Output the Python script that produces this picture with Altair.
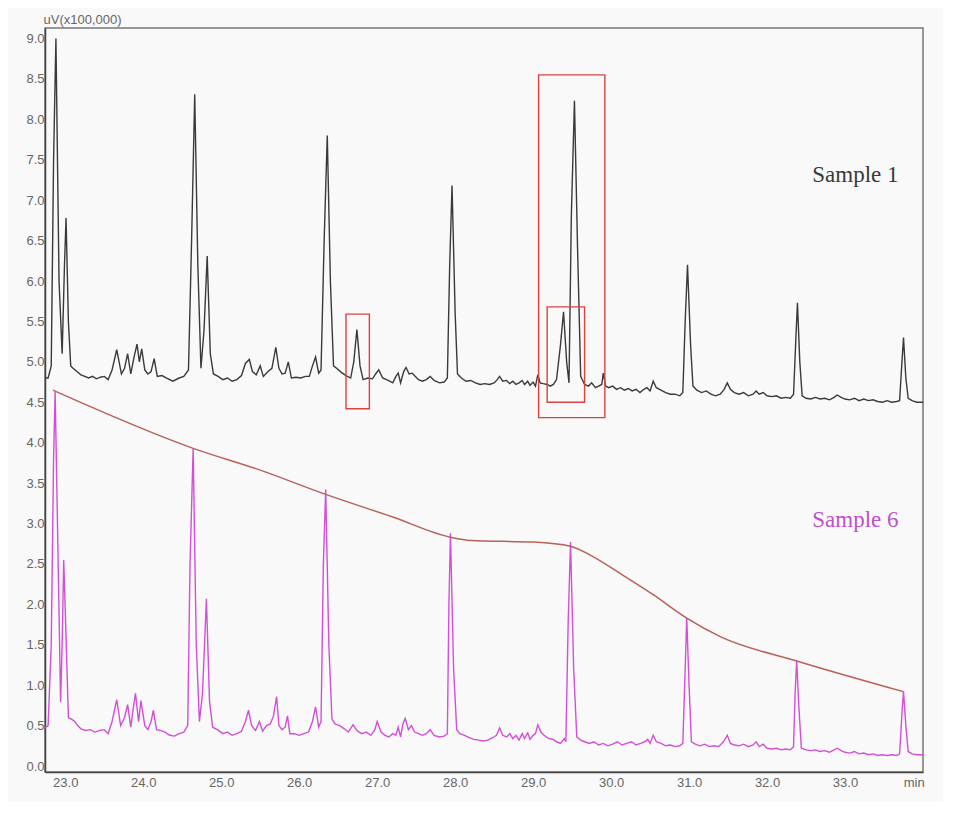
import pandas as pd
import altair as alt

OUTPUT_FILE = "out.html"

BLACK   = "#3a3a3a"
MAGENTA = "#d24fd6"
ENV_RED = "#b9605a"
BOX_RED = "#d9443f"
GRAY    = "#666666"
BG      = "#f9f9f9"

# Sample 1 trace (retention time in min, signal in uV x 100,000)
S1_POINTS = [
    (22.74, 4.80), (22.78, 4.80), (22.82, 4.95), (22.85, 7.50), (22.88, 9.00),
    (22.92, 6.00), (22.96, 5.10), (22.99, 6.20), (23.01, 6.78), (23.04, 5.50),
    (23.07, 4.95), (23.10, 4.92), (23.15, 4.88), (23.20, 4.84), (23.25, 4.82),
    (23.30, 4.80), (23.35, 4.82), (23.40, 4.79), (23.45, 4.81), (23.50, 4.82),
    (23.55, 4.78), (23.60, 4.90), (23.66, 5.15), (23.72, 4.85), (23.76, 4.92),
    (23.80, 5.10), (23.84, 4.85), (23.88, 5.05), (23.92, 5.22), (23.95, 5.00),
    (23.98, 5.16), (24.02, 4.90), (24.06, 4.85), (24.10, 4.88), (24.14, 5.04),
    (24.18, 4.82), (24.24, 4.83), (24.30, 4.80), (24.38, 4.76), (24.46, 4.80),
    (24.52, 4.82), (24.58, 4.90), (24.62, 6.50), (24.66, 8.31), (24.70, 6.20),
    (24.74, 4.92), (24.78, 5.40), (24.82, 6.31), (24.86, 5.10), (24.90, 4.85),
    (24.96, 4.82), (25.02, 4.78), (25.08, 4.80), (25.14, 4.76), (25.20, 4.78),
    (25.26, 4.83), (25.31, 4.98), (25.36, 5.03), (25.40, 4.88), (25.45, 4.84),
    (25.50, 4.95), (25.54, 4.82), (25.60, 4.88), (25.65, 4.92), (25.70, 5.18),
    (25.74, 4.92), (25.78, 4.85), (25.82, 4.86), (25.86, 5.00), (25.90, 4.80),
    (25.96, 4.81), (26.02, 4.80), (26.08, 4.82), (26.13, 4.82), (26.17, 4.95),
    (26.21, 5.06), (26.25, 4.86), (26.28, 4.90), (26.32, 6.50), (26.36, 7.80),
    (26.40, 6.00), (26.44, 4.95), (26.48, 4.92), (26.54, 4.87), (26.60, 4.83),
    (26.66, 4.80), (26.70, 5.00), (26.74, 5.40), (26.78, 4.95), (26.82, 4.78),
    (26.88, 4.80), (26.94, 4.79), (26.98, 4.85), (27.02, 4.90), (27.07, 4.80),
    (27.12, 4.78), (27.16, 4.76), (27.20, 4.74), (27.24, 4.82), (27.27, 4.86),
    (27.30, 4.74), (27.34, 4.88), (27.37, 4.93), (27.41, 4.85), (27.45, 4.86),
    (27.49, 4.82), (27.53, 4.78), (27.58, 4.76), (27.63, 4.78), (27.68, 4.82),
    (27.73, 4.77), (27.80, 4.74), (27.86, 4.75), (27.90, 4.80), (27.93, 6.20),
    (27.96, 7.18), (28.00, 5.60), (28.03, 4.85), (28.08, 4.80), (28.14, 4.76),
    (28.20, 4.77), (28.26, 4.74), (28.32, 4.72), (28.38, 4.73), (28.44, 4.72),
    (28.50, 4.74), (28.54, 4.78), (28.57, 4.82), (28.61, 4.76), (28.66, 4.77),
    (28.70, 4.73), (28.74, 4.76), (28.78, 4.72), (28.82, 4.74), (28.86, 4.77),
    (28.89, 4.72), (28.93, 4.76), (28.96, 4.71), (29.00, 4.75), (29.03, 4.70),
    (29.06, 4.84), (29.09, 4.74), (29.13, 4.73), (29.18, 4.72), (29.22, 4.70),
    (29.26, 4.72), (29.30, 4.78), (29.35, 5.20), (29.39, 5.62), (29.43, 5.00),
    (29.46, 4.74), (29.49, 6.80), (29.53, 8.23), (29.57, 6.40), (29.61, 4.82),
    (29.66, 4.72), (29.71, 4.70), (29.75, 4.74), (29.80, 4.68), (29.84, 4.70),
    (29.88, 4.72), (29.90, 4.86), (29.93, 4.70), (29.97, 4.68), (30.02, 4.70),
    (30.07, 4.66), (30.12, 4.68), (30.17, 4.65), (30.22, 4.67), (30.27, 4.64),
    (30.32, 4.66), (30.37, 4.62), (30.42, 4.66), (30.46, 4.68), (30.50, 4.64),
    (30.54, 4.76), (30.58, 4.68), (30.64, 4.65), (30.70, 4.62), (30.76, 4.60),
    (30.82, 4.60), (30.88, 4.58), (30.92, 4.62), (30.95, 5.50), (30.98, 6.20),
    (31.02, 5.20), (31.05, 4.70), (31.10, 4.65), (31.16, 4.62), (31.22, 4.64),
    (31.28, 4.60), (31.34, 4.58), (31.40, 4.60), (31.45, 4.66), (31.49, 4.74),
    (31.53, 4.66), (31.58, 4.62), (31.64, 4.60), (31.70, 4.62), (31.76, 4.58),
    (31.82, 4.60), (31.86, 4.64), (31.90, 4.60), (31.95, 4.62), (32.00, 4.58),
    (32.06, 4.57), (32.12, 4.58), (32.18, 4.55), (32.24, 4.56), (32.30, 4.55),
    (32.34, 4.60), (32.37, 5.30), (32.39, 5.73), (32.42, 5.00), (32.45, 4.58),
    (32.50, 4.55), (32.56, 4.54), (32.62, 4.56), (32.68, 4.54), (32.74, 4.55),
    (32.80, 4.53), (32.86, 4.56), (32.90, 4.59), (32.95, 4.56), (33.00, 4.54),
    (33.06, 4.53), (33.12, 4.55), (33.18, 4.52), (33.24, 4.54), (33.30, 4.52),
    (33.36, 4.53), (33.42, 4.51), (33.48, 4.50), (33.54, 4.52), (33.60, 4.50),
    (33.66, 4.51), (33.70, 4.52), (33.73, 5.00), (33.75, 5.30), (33.78, 4.80),
    (33.81, 4.55), (33.86, 4.52), (33.92, 4.50), (34.00, 4.50),
]

# Sample 6 trace
S6_POINTS = [
    (22.74, 0.47), (22.78, 0.50), (22.82, 1.50), (22.85, 3.80), (22.87, 4.63),
    (22.90, 3.00), (22.94, 0.79), (22.96, 1.50), (22.98, 2.55), (23.01, 1.60),
    (23.04, 0.60), (23.08, 0.58), (23.12, 0.55), (23.16, 0.50), (23.20, 0.46),
    (23.26, 0.44), (23.32, 0.45), (23.38, 0.42), (23.44, 0.44), (23.50, 0.45),
    (23.55, 0.40), (23.60, 0.55), (23.66, 0.82), (23.71, 0.50), (23.76, 0.60),
    (23.80, 0.76), (23.84, 0.48), (23.87, 0.70), (23.90, 0.90), (23.94, 0.55),
    (23.97, 0.81), (24.02, 0.50), (24.06, 0.45), (24.10, 0.55), (24.13, 0.69),
    (24.17, 0.45), (24.22, 0.44), (24.28, 0.42), (24.34, 0.38), (24.40, 0.37),
    (24.46, 0.40), (24.52, 0.42), (24.57, 0.50), (24.60, 2.50), (24.64, 3.93),
    (24.68, 1.50), (24.72, 0.55), (24.76, 0.90), (24.81, 2.07), (24.85, 0.80),
    (24.89, 0.48), (24.95, 0.45), (25.02, 0.40), (25.08, 0.42), (25.14, 0.38),
    (25.20, 0.40), (25.26, 0.43), (25.31, 0.55), (25.35, 0.69), (25.39, 0.50),
    (25.44, 0.44), (25.49, 0.55), (25.53, 0.43), (25.58, 0.50), (25.63, 0.52),
    (25.67, 0.62), (25.71, 0.86), (25.74, 0.50), (25.78, 0.45), (25.82, 0.48),
    (25.85, 0.62), (25.88, 0.40), (25.94, 0.40), (26.00, 0.38), (26.06, 0.40),
    (26.12, 0.42), (26.17, 0.55), (26.21, 0.73), (26.25, 0.48), (26.28, 0.55),
    (26.31, 2.50), (26.34, 3.42), (26.38, 1.50), (26.42, 0.58), (26.46, 0.52),
    (26.52, 0.50), (26.58, 0.46), (26.63, 0.42), (26.69, 0.51), (26.74, 0.44),
    (26.80, 0.40), (26.86, 0.42), (26.92, 0.38), (26.97, 0.45), (27.00, 0.55),
    (27.05, 0.42), (27.10, 0.38), (27.15, 0.36), (27.20, 0.40), (27.24, 0.38),
    (27.27, 0.48), (27.30, 0.36), (27.33, 0.52), (27.36, 0.59), (27.40, 0.45),
    (27.44, 0.50), (27.48, 0.42), (27.53, 0.40), (27.58, 0.38), (27.63, 0.40),
    (27.68, 0.45), (27.73, 0.38), (27.80, 0.36), (27.86, 0.37), (27.90, 0.40),
    (27.92, 2.00), (27.94, 2.88), (27.98, 1.20), (28.02, 0.45), (28.06, 0.40),
    (28.12, 0.38), (28.18, 0.35), (28.24, 0.33), (28.30, 0.32), (28.36, 0.31),
    (28.42, 0.32), (28.48, 0.35), (28.53, 0.38), (28.57, 0.47), (28.61, 0.38),
    (28.66, 0.36), (28.70, 0.40), (28.74, 0.34), (28.78, 0.38), (28.82, 0.32),
    (28.86, 0.40), (28.89, 0.34), (28.93, 0.41), (28.96, 0.33), (29.00, 0.38),
    (29.03, 0.40), (29.06, 0.51), (29.10, 0.42), (29.14, 0.38), (29.20, 0.34),
    (29.26, 0.33), (29.30, 0.30), (29.35, 0.28), (29.40, 0.34), (29.42, 0.30),
    (29.45, 1.80), (29.48, 2.77), (29.52, 1.20), (29.56, 0.36), (29.61, 0.32),
    (29.66, 0.30), (29.72, 0.28), (29.78, 0.30), (29.84, 0.26), (29.90, 0.28),
    (29.96, 0.25), (30.02, 0.27), (30.08, 0.30), (30.14, 0.26), (30.20, 0.28),
    (30.26, 0.30), (30.32, 0.26), (30.38, 0.28), (30.43, 0.30), (30.47, 0.33),
    (30.50, 0.28), (30.54, 0.38), (30.58, 0.30), (30.64, 0.28), (30.70, 0.25),
    (30.76, 0.26), (30.82, 0.24), (30.88, 0.25), (30.92, 0.28), (30.95, 1.20),
    (30.97, 1.83), (31.00, 1.00), (31.03, 0.30), (31.08, 0.27), (31.14, 0.25),
    (31.20, 0.27), (31.26, 0.24), (31.32, 0.25), (31.38, 0.24), (31.44, 0.30),
    (31.49, 0.38), (31.53, 0.28), (31.58, 0.26), (31.64, 0.25), (31.70, 0.27),
    (31.76, 0.24), (31.82, 0.26), (31.86, 0.30), (31.90, 0.24), (31.95, 0.27),
    (32.00, 0.22), (32.06, 0.21), (32.12, 0.22), (32.18, 0.20), (32.24, 0.21),
    (32.30, 0.20), (32.34, 0.24), (32.36, 0.90), (32.38, 1.30), (32.41, 0.70),
    (32.44, 0.22), (32.50, 0.20), (32.56, 0.19), (32.62, 0.20), (32.68, 0.18),
    (32.74, 0.19), (32.80, 0.17), (32.86, 0.20), (32.90, 0.22), (32.95, 0.19),
    (33.00, 0.17), (33.06, 0.16), (33.12, 0.18), (33.18, 0.15), (33.24, 0.16),
    (33.30, 0.14), (33.36, 0.15), (33.42, 0.13), (33.48, 0.14), (33.54, 0.13),
    (33.60, 0.14), (33.66, 0.13), (33.70, 0.15), (33.73, 0.65), (33.75, 0.92),
    (33.78, 0.50), (33.81, 0.18), (33.86, 0.15), (33.92, 0.14), (34.00, 0.14),
]

# red curve over the Sample 6 marker peaks
ENV_POINTS = [
    (22.84, 4.65), (24.64, 3.93), (25.50, 3.66), (26.34, 3.36), (27.20, 3.08),
    (27.94, 2.83), (28.20, 2.79), (29.00, 2.77), (29.48, 2.72), (29.75, 2.60),
    (30.12, 2.38), (30.54, 2.12), (30.97, 1.83), (31.40, 1.60), (32.38, 1.30),
    (33.75, 0.92),
]

# highlighted regions: (t start, t end, signal low, signal high)
BOXES = [
    (26.60, 26.90, 4.42, 5.59),
    (29.07, 29.92, 4.31, 8.55),
    (29.18, 29.66, 4.50, 5.68),
]

LABELS = [("Sample 1", 32.58, 7.22, BLACK), ("Sample 6", 32.58, 2.96, "#c050c8")]

X_TICKS = [23.0, 24.0, 25.0, 26.0, 27.0, 28.0, 29.0, 30.0, 31.0, 32.0, 33.0, 33.88]
Y_TICKS = [i * 0.5 for i in range(19)]

s1 = pd.DataFrame(S1_POINTS, columns=["t", "v"])
s6 = pd.DataFrame(S6_POINTS, columns=["t", "v"])
env = pd.DataFrame(ENV_POINTS, columns=["t", "v"])
boxes = pd.DataFrame(BOXES, columns=["t0", "t1", "v0", "v1"])
labels = pd.DataFrame(LABELS, columns=["text", "t", "v", "color"])

X_SCALE = alt.Scale(domain=[22.74, 34.0], nice=False, zero=False)
Y_SCALE = alt.Scale(domain=[-0.074, 9.13], nice=False, zero=False)

x_enc = alt.X("t:Q", scale=X_SCALE, title=None,
              axis=alt.Axis(values=X_TICKS, grid=False, ticks=False,
                            labelPadding=4, labelFontSize=13, labelColor=GRAY,
                            labelFont="Liberation Sans", domainColor="#444",
                            domainWidth=1.5,
                            labelExpr="datum.value > 33.5 ? 'min' : format(datum.value, '.1f')"))
y_enc = alt.Y("v:Q", scale=Y_SCALE,
              axis=alt.Axis(values=Y_TICKS, format=".1f", grid=False, ticks=False,
                            labelPadding=1, labelFontSize=13, labelColor=GRAY,
                            labelFont="Liberation Sans", domainColor="#444",
                            domainWidth=1.5,
                            title="uV(x100,000)", titleAngle=0, titleAlign="left",
                            titleBaseline="bottom", titleX=-2, titleY=-2,
                            titleFontSize=13, titleFontWeight="normal",
                            titleColor=GRAY, titleFont="Liberation Sans"))

trace1 = alt.Chart(s1).mark_line(color=BLACK, strokeWidth=1.4).encode(
    x=x_enc, y=y_enc, order="t:Q")
trace6 = alt.Chart(s6).mark_line(color=MAGENTA, strokeWidth=1.4).encode(
    x="t:Q", y="v:Q", order="t:Q")
envelope = alt.Chart(env).mark_line(color=ENV_RED, strokeWidth=1.5,
                                    interpolate="monotone").encode(
    x="t:Q", y="v:Q", order="t:Q")
rects = alt.Chart(boxes).mark_rect(filled=False, stroke=BOX_RED, strokeWidth=1.4).encode(
    x="t0:Q", x2="t1:Q", y="v0:Q", y2="v1:Q")
texts = alt.Chart(labels).mark_text(align="left", baseline="alphabetic",
                                    font="Liberation Serif", fontSize=23).encode(
    x="t:Q", y="v:Q", text="text:N",
    color=alt.Color("color:N", scale=None))

chart = (
    alt.layer(trace6, envelope, trace1, rects, texts)
    .properties(width=878, height=744, background=BG,
                autosize=alt.AutoSizeParams(type="none"),
                padding={"left": 37, "top": 20, "right": 20, "bottom": 30})
    .configure_view(stroke="#777", strokeWidth=1.5)
)

chart.save(OUTPUT_FILE, embed_options={"renderer": "svg", "actions": False})
